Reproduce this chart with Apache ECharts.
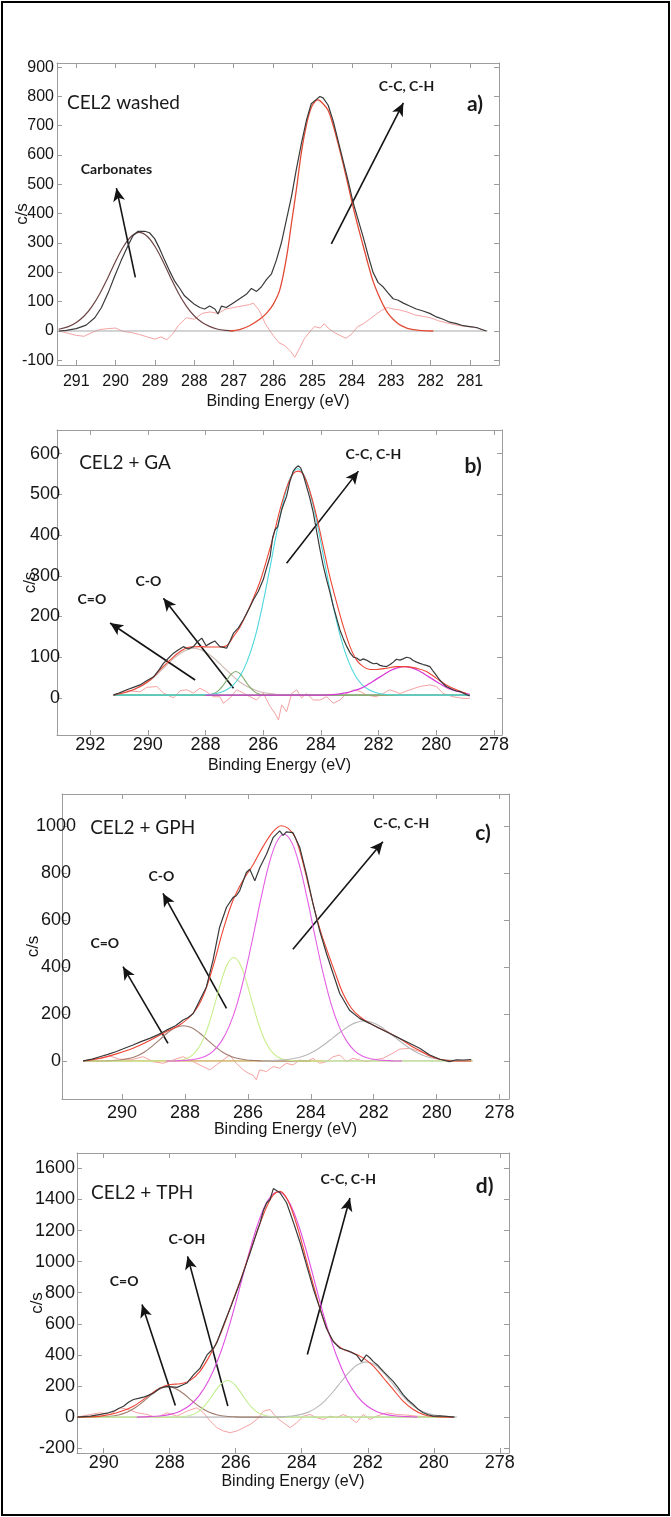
<!DOCTYPE html>
<html><head><meta charset="utf-8">
<script src="https://cdn.jsdelivr.net/npm/echarts@6/dist/echarts.min.js"></script>
<style>html,body{margin:0;padding:0;background:#fff}#c{width:671px;height:1517px}</style>
</head><body><div id="c"></div>
<script>
// ---------------- DATA (Binding energy eV, counts/s) ----------------
// Panel a) CEL2 washed
const a_xticks = [281,282,283,284,285,286,287,288,289,290,291];
const a_yticks = [-100,0,100,200,300,400,500,600,700,800,900];
const a_exp = [[291.44,0],[291.25,2],[291.0,8],[290.75,20],[290.53,45],[290.36,80],[290.19,130],[290.03,185],[289.86,240],[289.69,290],[289.56,325],[289.43,340],[289.26,340],[289.14,335],[289.01,315],[288.88,280],[288.75,240],[288.63,205],[288.5,170],[288.37,145],[288.25,120],[288.12,105],[287.99,90],[287.86,80],[287.74,75],[287.61,85],[287.48,75],[287.4,58],[287.31,85],[287.19,80],[287.02,95],[286.85,110],[286.68,125],[286.55,145],[286.42,135],[286.3,150],[286.17,175],[286.04,195],[285.92,240],[285.79,300],[285.66,380],[285.53,460],[285.41,550],[285.28,640],[285.15,720],[285.03,775],[284.9,790],[284.81,800],[284.73,795],[284.6,770],[284.47,715],[284.35,650],[284.22,580],[284.09,510],[283.97,440],[283.84,380],[283.71,320],[283.58,255],[283.46,200],[283.33,165],[283.2,150],[283.08,130],[282.95,110],[282.82,105],[282.69,95],[282.53,85],[282.36,75],[282.19,68],[282.02,60],[281.85,48],[281.68,40],[281.51,30],[281.34,25],[281.17,18],[281.0,15],[280.83,12],[280.7,5],[280.58,0]];
const a_carb = [[291.45,6],[291.2,15],[291.0,29],[290.8,51],[290.6,84],[290.4,128],[290.2,181],[290.0,238],[289.8,288],[289.6,323],[289.4,336],[289.2,323],[289.0,288],[288.8,238],[288.6,181],[288.4,128],[288.2,84],[288.0,51],[287.8,29],[287.6,15],[287.4,6],[287.2,2],[287.0,0]];
const a_cc = [[287.1,0],[286.85,5],[286.6,18],[286.34,40],[286.17,60],[286.0,90],[285.83,140],[285.66,250],[285.53,370],[285.41,480],[285.28,610],[285.15,705],[285.03,762],[284.92,785],[284.86,788],[284.73,775],[284.6,752],[284.47,700],[284.35,640],[284.22,570],[284.09,495],[283.97,425],[283.84,355],[283.71,290],[283.58,225],[283.46,170],[283.33,125],[283.2,88],[283.08,60],[282.95,40],[282.82,25],[282.69,15],[282.5,6],[282.2,1],[281.93,0]];
const a_res = [[291.44,0],[291.2,-8],[291.0,-15],[290.8,-18],[290.6,-5],[290.4,5],[290.2,8],[290.0,10],[289.8,-2],[289.6,-5],[289.4,-12],[289.2,-20],[289.0,-28],[288.85,-20],[288.7,-30],[288.55,-10],[288.4,20],[288.2,45],[288.0,40],[287.8,60],[287.6,65],[287.4,60],[287.2,75],[287.0,80],[286.8,85],[286.6,90],[286.5,95],[286.35,70],[286.2,25],[286.0,-15],[285.85,-40],[285.7,-50],[285.55,-70],[285.45,-90],[285.35,-65],[285.2,-25],[285.05,0],[284.95,15],[284.8,10],[284.7,25],[284.6,10],[284.45,-5],[284.3,-15],[284.15,-25],[284.0,-10],[283.85,15],[283.7,25],[283.55,40],[283.4,55],[283.25,70],[283.1,80],[282.95,75],[282.8,72],[282.6,65],[282.4,55],[282.2,50],[282.0,45],[281.8,35],[281.6,28],[281.4,22],[281.2,17],[281.0,14],[280.8,10],[280.58,0]];
const a_base = [[291.45,0],[280.55,0]];

// Panel b) CEL2 + GA
const b_xticks = [278,280,282,284,286,288,290,292];
const b_yticks = [0,100,200,300,400,500,600];
const b_exp = [[291.19,7],[291.0,12],[290.73,20],[290.5,26],[290.27,32],[290.04,42],[289.8,52],[289.6,70],[289.46,85],[289.28,98],[289.11,110],[288.95,118],[288.77,126],[288.6,120],[288.42,126],[288.28,138],[288.13,147],[287.98,128],[287.84,134],[287.68,140],[287.5,126],[287.38,124],[287.27,122],[287.15,140],[287.03,159],[286.86,172],[286.69,192],[286.52,215],[286.34,241],[286.17,262],[286.0,290],[285.88,320],[285.76,348],[285.67,395],[285.59,413],[285.5,420],[285.36,462],[285.28,478],[285.19,495],[285.08,530],[284.96,557],[284.86,566],[284.78,570],[284.7,565],[284.6,545],[284.5,520],[284.38,490],[284.26,454],[284.15,410],[284.03,364],[283.92,325],[283.8,290],[283.68,258],[283.57,225],[283.45,195],[283.34,167],[283.22,145],[283.1,126],[282.98,110],[282.87,100],[282.76,98],[282.64,92],[282.53,96],[282.42,93],[282.3,88],[282.18,84],[282.07,85],[281.95,80],[281.84,78],[281.72,77],[281.6,82],[281.49,88],[281.38,95],[281.26,93],[281.15,96],[281.03,100],[280.91,98],[280.8,92],[280.68,88],[280.57,85],[280.45,82],[280.34,80],[280.22,77],[280.1,65],[279.99,55],[279.88,44],[279.76,35],[279.65,28],[279.53,24],[279.42,20],[279.3,17],[279.18,16],[279.07,12],[278.95,8],[278.84,5]];
const b_env = [[291.19,7],[290.5,20],[289.92,44],[289.58,69],[289.23,93],[288.88,114],[288.54,125],[288.19,126],[287.84,125],[287.5,125],[287.27,128],[287.03,151],[286.8,175],[286.57,208],[286.34,245],[286.11,286],[285.88,339],[285.65,397],[285.42,462],[285.19,516],[284.96,551],[284.78,557],[284.61,549],[284.38,507],[284.15,446],[283.92,372],[283.69,298],[283.45,233],[283.22,175],[282.99,126],[282.76,93],[282.53,77],[282.3,70],[282.07,70],[281.72,73],[281.38,77],[281.03,77],[280.68,73],[280.34,65],[279.99,48],[279.65,32],[279.3,20],[278.95,11]];
const b_co = [[291.19,9],[290.9,12],[290.65,16],[290.4,23],[290.15,32],[289.9,44],[289.65,60],[289.4,77],[289.15,94],[288.9,108],[288.65,118],[288.4,122],[288.15,118],[287.9,108],[287.65,94],[287.4,77],[287.15,60],[286.9,44],[286.65,32],[286.4,23],[286.15,16],[285.9,12],[285.65,10],[285.4,8],[285.0,7],[278.84,7]];
const b_c_o = [[291.19,7],[288.0,7],[287.85,8],[287.7,11],[287.55,18],[287.4,30],[287.25,45],[287.1,59],[286.95,65],[286.8,59],[286.65,45],[286.5,30],[286.35,18],[286.2,11],[286.05,8],[285.9,7],[278.84,7]];
const b_cc = [[291.19,7],[288.3,7],[288.05,8],[287.8,9],[287.55,12],[287.3,19],[287.05,31],[286.8,54],[286.55,91],[286.3,145],[286.05,219],[285.8,307],[285.55,400],[285.3,483],[285.05,542],[284.8,563],[284.55,542],[284.3,483],[284.05,400],[283.8,307],[283.55,219],[283.3,145],[283.05,91],[282.8,54],[282.55,31],[282.3,19],[282.05,12],[281.8,9],[281.55,8],[281.3,7],[278.84,7]];
const b_mag = [[288.0,7],[283.85,7],[283.6,8],[283.35,10],[283.1,13],[282.85,18],[282.6,24],[282.35,34],[282.1,45],[281.85,56],[281.6,67],[281.35,74],[281.1,77],[280.85,74],[280.6,67],[280.35,56],[280.1,45],[279.85,34],[279.6,24],[279.35,18],[279.1,13],[278.84,9]];
const b_res = [[291.19,7],[290.73,18],[290.27,15],[290.04,26],[289.69,28],[289.46,12],[289.11,0],[288.88,18],[288.65,20],[288.42,12],[288.19,24],[287.96,15],[287.73,3],[287.5,3],[287.38,-13],[287.15,0],[286.92,20],[286.69,12],[286.46,3],[286.23,-5],[286.0,12],[285.76,-21],[285.59,-38],[285.47,-54],[285.36,-17],[285.19,-34],[285.01,11],[284.84,20],[284.67,0],[284.5,11],[284.26,-5],[284.03,-5],[283.8,3],[283.57,-13],[283.34,-5],[283.1,11],[282.87,20],[282.64,16],[282.41,7],[282.07,3],[281.84,11],[281.61,20],[281.26,11],[280.91,20],[280.57,28],[280.22,32],[279.99,28],[279.76,11],[279.42,3],[279.07,-1],[278.84,-1]];
const b_base = [[291.19,7],[278.84,7]];

// Panel c) CEL2 + GPH
const c_xticks = [278,280,282,284,286,288,290];
const c_yticks = [0,200,400,600,800,1000];
const c_exp = [[291.24,0],[290.95,8],[290.71,18],[290.45,28],[290.18,40],[289.9,55],[289.65,68],[289.4,82],[289.12,96],[288.85,112],[288.59,131],[288.3,150],[288.06,174],[287.9,185],[287.74,202],[287.53,258],[287.32,315],[287.11,428],[286.9,569],[286.68,654],[286.47,696],[286.37,703],[286.26,725],[286.05,802],[285.94,816],[285.78,767],[285.62,823],[285.41,880],[285.2,950],[284.99,979],[284.88,960],[284.78,975],[284.57,972],[284.35,908],[284.14,795],[283.93,668],[283.72,555],[283.5,456],[283.29,371],[283.08,287],[282.77,216],[282.45,181],[282.13,160],[281.81,138],[281.49,117],[281.18,96],[280.86,75],[280.54,54],[280.22,25],[279.9,7],[279.59,-3],[279.37,5],[279.16,4],[278.9,6]];
const c_env = [[291.24,0],[290.71,11],[290.18,30],[289.65,54],[289.12,87],[288.59,125],[288.17,153],[287.74,203],[287.43,274],[287.11,401],[286.79,557],[286.47,685],[286.15,770],[285.84,834],[285.52,912],[285.2,976],[284.94,1001],[284.72,990],[284.51,955],[284.3,869],[284.09,756],[283.88,643],[283.67,543],[283.45,458],[283.24,380],[282.98,288],[282.71,224],[282.45,189],[282.13,160],[281.81,139],[281.49,118],[281.18,96],[280.86,68],[280.54,44],[280.22,21],[279.9,7],[279.48,0],[278.9,0]];
const c_co = [[291.24,0],[290.55,0],[290.3,2],[290.05,4],[289.8,10],[289.55,20],[289.3,37],[289.05,62],[288.8,91],[288.55,120],[288.3,142],[288.05,150],[287.8,142],[287.55,120],[287.3,91],[287.05,62],[286.8,37],[286.55,20],[286.3,10],[286.05,4],[285.8,2],[285.55,0],[284.0,0]];
const c_c_o = [[291.24,0],[288.45,0],[288.25,2],[288.05,6],[287.85,17],[287.65,41],[287.45,84],[287.25,153],[287.05,243],[286.85,338],[286.65,412],[286.45,440],[286.25,412],[286.05,338],[285.85,243],[285.65,153],[285.45,84],[285.25,41],[285.05,17],[284.85,6],[284.65,2],[284.45,0],[278.85,0]];
const c_cc = [[288.6,0],[288.35,0],[288.1,2],[287.85,4],[287.6,9],[287.35,20],[287.1,42],[286.85,82],[286.6,146],[286.35,240],[286.1,368],[285.85,520],[285.6,682],[285.35,827],[285.1,928],[284.85,965],[284.6,928],[284.35,827],[284.1,682],[283.85,520],[283.6,368],[283.35,240],[283.1,146],[282.85,82],[282.6,42],[282.35,20],[282.1,9],[281.85,4],[281.6,2],[281.35,0],[281.1,0]];
const c_gr = [[285.6,0],[285.3,1],[285.05,3],[284.8,5],[284.55,10],[284.3,18],[284.05,31],[283.8,49],[283.55,72],[283.3,98],[283.05,124],[282.8,148],[282.55,164],[282.3,170],[282.05,164],[281.8,148],[281.55,124],[281.3,98],[281.05,72],[280.8,49],[280.55,31],[280.3,18],[280.05,10],[279.8,5],[279.55,3],[279.3,1],[279.0,0]];
const c_res = [[291.24,0],[290.71,11],[290.39,21],[290.07,7],[289.65,7],[289.33,18],[289.01,-3],[288.7,-10],[288.38,4],[288.06,18],[287.74,-3],[287.43,-24],[287.21,-38],[287.0,-17],[286.79,4],[286.58,25],[286.37,-10],[286.15,-38],[285.99,-52],[285.84,-60],[285.73,-81],[285.63,-38],[285.41,-45],[285.2,-24],[284.99,-31],[284.78,-10],[284.57,-17],[284.35,4],[284.14,-3],[283.93,11],[283.72,-10],[283.5,-3],[283.29,18],[283.08,25],[282.87,-3],[282.66,11],[282.45,4],[282.24,-3],[282.02,4],[281.71,11],[281.39,33],[281.18,50],[280.86,54],[280.54,40],[280.22,25],[279.9,7],[279.48,0]];
const c_base = [[291.24,0],[278.85,0]];
const c_base2 = [[291.24,0],[283.6,0]];

// Panel d) CEL2 + TPH
const d_xticks = [278,280,282,284,286,288,290];
const d_yticks = [-200,0,200,400,600,800,1000,1200,1400,1600];
const d_exp = [[290.8,0],[290.6,3],[290.4,6],[290.1,17],[289.9,25],[289.7,38],[289.55,55],[289.4,70],[289.25,95],[289.1,113],[288.95,120],[288.8,128],[288.65,140],[288.49,155],[288.29,187],[288.08,198],[287.93,195],[287.78,191],[287.63,205],[287.48,219],[287.28,272],[287.08,315],[286.87,400],[286.67,443],[286.57,480],[286.47,538],[286.32,620],[286.17,698],[285.87,868],[285.56,1060],[285.36,1190],[285.26,1251],[285.16,1330],[285.06,1379],[284.96,1400],[284.86,1470],[284.81,1464],[284.66,1443],[284.46,1379],[284.25,1251],[284.05,1123],[283.85,974],[283.65,826],[283.45,698],[283.25,570],[283.04,485],[282.84,443],[282.64,430],[282.54,421],[282.34,400],[282.19,357],[282.04,400],[281.93,380],[281.83,357],[281.68,330],[281.53,294],[281.38,262],[281.23,230],[281.08,190],[280.93,145],[280.78,110],[280.62,81],[280.47,50],[280.32,28],[280.17,15],[280.02,6],[279.82,8],[279.62,5],[279.37,0]];
const d_env = [[290.81,0],[290.1,6],[289.6,28],[289.09,71],[288.59,146],[288.29,188],[287.98,210],[287.68,214],[287.38,236],[287.08,296],[286.77,403],[286.47,531],[286.17,702],[285.87,874],[285.56,1066],[285.26,1248],[285.06,1355],[284.86,1430],[284.66,1452],[284.46,1409],[284.25,1302],[284.05,1163],[283.85,1002],[283.65,852],[283.45,702],[283.25,574],[283.04,488],[282.74,435],[282.44,413],[282.14,381],[281.83,328],[281.53,253],[281.23,178],[280.93,103],[280.62,49],[280.32,17],[280.02,4],[279.62,0],[279.4,0]];
const d_co = [[290.8,0],[290.3,0],[290.05,2],[289.8,5],[289.55,14],[289.3,31],[289.05,60],[288.8,100],[288.55,145],[288.3,181],[288.05,195],[287.8,181],[287.55,145],[287.3,100],[287.05,60],[286.8,31],[286.55,14],[286.3,5],[286.05,2],[285.8,0],[284.5,0]];
const d_coh = [[290.8,0],[287.9,0],[287.75,1],[287.6,3],[287.45,7],[287.3,16],[287.15,32],[287.0,59],[286.85,97],[286.7,143],[286.55,188],[286.4,222],[286.25,235],[286.1,222],[285.95,188],[285.8,143],[285.65,97],[285.5,59],[285.35,32],[285.2,16],[285.05,7],[284.9,3],[284.75,1],[284.6,0],[279.4,0]];
const d_cc = [[289.0,0],[288.62,3],[288.32,7],[288.02,16],[287.72,35],[287.42,71],[287.12,135],[286.82,235],[286.52,380],[286.22,571],[285.92,799],[285.62,1038],[285.32,1249],[285.02,1396],[284.72,1450],[284.42,1396],[284.12,1249],[283.82,1038],[283.52,799],[283.22,571],[282.92,380],[282.62,235],[282.32,135],[282.02,71],[281.72,35],[281.42,16],[281.12,7],[280.82,3],[280.5,0]];
const d_gr = [[285.2,0],[284.8,1],[284.55,3],[284.3,7],[284.05,16],[283.8,32],[283.55,61],[283.3,105],[283.05,163],[282.8,229],[282.55,292],[282.3,338],[282.05,355],[281.8,338],[281.55,292],[281.3,229],[281.05,163],[280.8,105],[280.55,61],[280.3,32],[280.05,16],[279.8,7],[279.55,3],[279.3,1]];
const d_res = [[290.81,0],[290.5,13],[290.1,28],[289.8,17],[289.5,60],[289.2,45],[288.99,28],[288.69,17],[288.39,-4],[288.08,28],[287.78,6],[287.48,38],[287.18,60],[286.98,28],[286.77,-26],[286.57,-68],[286.37,-90],[286.17,-100],[285.97,-90],[285.76,-68],[285.56,-47],[285.36,-15],[285.16,38],[284.96,49],[284.76,-4],[284.56,-36],[284.35,-68],[284.15,-36],[283.95,6],[283.75,17],[283.55,-4],[283.35,-15],[283.14,6],[282.94,-4],[282.74,17],[282.54,-4],[282.34,-36],[282.14,17],[281.93,-15],[281.73,6],[281.43,28],[281.13,17],[280.83,13],[280.52,6],[280.02,0],[279.62,0]];
const d_base = [[290.8,0],[279.4,0]];

// ---------------- LAYOUT / STYLE ----------------
const FONT = "'Liberation Sans',Arial,sans-serif";
const ANN = "Lato,'Open Sans','Noto Sans',sans-serif";
const AX = '#9c9c9c';
const C = {exp:'#3a3a3a', env:'#ee4433', res:'#f5a3a3', base:'#a8a8a8'};

const panels = [
  {grid:{left:57,top:63,width:442,height:302}, xr:[280.26,291.49], yr:[-116,914], xt:a_xticks, yt:a_yticks,
   fs:16, xm:9, ym:3, xng:29, yng:26, ypad:0,
   lines:[[a_res,C.res,1,false],[a_base,C.base,1,false],[a_carb,'#6e4444',1.2,true],[a_cc,'#e34a35',1.3,true],[a_exp,C.exp,1.2,false]],
   text:[[291.25,778,'CEL2 washed',19,'normal','left'],[280.87,772,'a)',21,'bold','center'],[282.61,835,'C-C, C-H',14,'bold','center'],[289.98,550,'Carbonates',14,'bold','center']],
   arrows:[[289.5,183,289.98,487],[284.52,297,282.69,778]]},
  {grid:{left:57,top:430,width:445,height:305}, xr:[277.72,293.15], yr:[-91,658], xt:b_xticks, yt:b_yticks,
   fs:18, xm:1, ym:-3, xng:23, yng:18, ypad:0,
   lines:[[b_res,C.res,1,false],[b_base,'#3c9c3c',1.2,false],[b_co,'#cdb9b0',1.1,true],[b_c_o,'#7da86a',1.1,true],[b_cc,'#4dd6dc',1.1,true],[b_mag,'#d838d8',1.2,true],[b_env,C.env,1.1,true],[b_exp,C.exp,1.2,false]],
   text:[[292.4,577,'CEL2 + GA',19,'normal','left'],[278.72,569,'b)',21,'bold','center'],[282.18,598,'C-C, C-H',14,'bold','center'],[289.98,286,'C-O',14,'bold','center'],[291.94,243,'C=O',14,'bold','center']],
   arrows:[[285.19,331,282.7,557],[287.03,24,289.46,245],[288.36,44,291.31,184]]},
  {grid:{left:62,top:794,width:447,height:305}, xr:[277.70,291.91], yr:[-162,1136], xt:c_xticks, yt:c_yticks,
   fs:18, xm:5, ym:6, xng:23, yng:20, ypad:12, yalign:'center',
   lines:[[c_res,C.res,1,false],[c_base,C.base,1,false],[c_base2,'#e6b84a',1,false],[c_co,'#a07c6e',1.1,true],[c_c_o,'#c9ef8f',1.1,true],[c_gr,'#b8b8b8',1.1,true],[c_cc,'#e45ee4',1.1,true],[c_env,C.env,1.1,true],[c_exp,C.exp,1.2,false]],
   text:[[291.03,990,'CEL2 + GPH',19,'normal','left'],[278.53,969,'c)',21,'bold','center'],[281.12,1011,'C-C, C-H',14,'bold','center'],[288.75,784,'C-O',14,'bold','center'],[290.55,498,'C=O',14,'bold','center']],
   arrows:[[284.57,475,281.71,933],[286.68,224,288.7,713],[288.54,75,289.97,401]]},
  {grid:{left:77,top:1153,width:432,height:300}, xr:[277.72,290.81], yr:[-231,1699], xt:d_xticks, yt:d_yticks,
   fs:18, xm:1, ym:2, xng:21, yng:31, ypad:0,
   lines:[[d_res,C.res,1,false],[d_base,C.base,1,false],[d_co,'#a07c6e',1.1,true],[d_coh,'#c2ee90',1.1,true],[d_gr,'#b8b8b8',1.1,true],[d_cc,'#e050e0',1.1,true],[d_env,C.env,1.1,true],[d_exp,C.exp,1.2,false]],
   text:[[290.4,1441,'CEL2 + TPH',19,'normal','left'],[278.46,1484,'d)',21,'bold','center'],[282.59,1527,'C-C, C-H',14,'bold','center'],[287.48,1141,'C-OH',14,'bold','center'],[289.38,874,'C=O',14,'bold','center']],
   arrows:[[283.83,403,282.54,1409],[286.24,71,287.46,1034],[287.83,75,288.84,724]]}
];

const option = {animation:false, backgroundColor:'#fff', grid:[], xAxis:[], yAxis:[], series:[],
  graphic:[{type:'rect', shape:{x:2,y:2,width:667,height:1513}, style:{fill:'none', stroke:'#000', lineWidth:2}, silent:true}]};

const plain = v => String(v);
panels.forEach((p,i)=>{
  option.grid.push(Object.assign({containLabel:false, outerBoundsMode:'none'}, p.grid));
  const common = {type:'value', gridIndex:i, splitLine:{show:false}, nameMoveOverlap:false};
  option.xAxis.push(Object.assign({}, common, {min:p.xr[0], max:p.xr[1], inverse:true, position:'bottom',
    axisLine:{show:true, onZero:false, lineStyle:{color:AX}},
    axisTick:{show:true, inside:true, length:5, customValues:p.xt, lineStyle:{color:AX}},
    axisLabel:{show:true, customValues:p.xt, formatter:plain, margin:p.xm, fontSize:p.fs, fontFamily:FONT, color:'#151515'},
    name:'Binding Energy (eV)', nameLocation:'middle', nameGap:p.xng,
    nameTextStyle:{fontSize:16, fontFamily:FONT, color:'#151515'}}));
  option.xAxis.push(Object.assign({}, common, {min:p.xr[0], max:p.xr[1], inverse:true, position:'top',
    axisLine:{show:true, onZero:false, lineStyle:{color:AX}},
    axisTick:{show:true, inside:true, length:5, customValues:p.xt, lineStyle:{color:AX}},
    axisLabel:{show:false}}));
  option.yAxis.push(Object.assign({}, common, {min:p.yr[0], max:p.yr[1], position:'left',
    axisLine:{show:true, onZero:false, lineStyle:{color:AX}},
    axisTick:{show:true, inside:true, length:5, customValues:p.yt, lineStyle:{color:AX}},
    axisLabel:{show:true, customValues:p.yt, formatter:plain, margin:p.ym, fontSize:p.fs, fontFamily:FONT, color:'#151515',
      padding:[p.ypad,0,0,0], align:p.yalign||'right'},
    name:'c/s', nameLocation:'middle', nameGap:p.yng,
    nameTextStyle:{fontSize:17, fontFamily:FONT, color:'#151515'}}));
  option.yAxis.push(Object.assign({}, common, {min:p.yr[0], max:p.yr[1], position:'right',
    axisLine:{show:true, onZero:false, lineStyle:{color:AX}},
    axisTick:{show:true, inside:true, length:5, customValues:p.yt, lineStyle:{color:AX}},
    axisLabel:{show:false}}));
  p.lines.forEach((l,k)=>{
    const s = {type:'line', xAxisIndex:2*i, yAxisIndex:2*i, data:l[0], symbol:'none', showSymbol:false,
      smooth:l[3]?0.35:false, silent:true, lineStyle:{color:l[1], width:l[2]}, z:2+k};
    if (k===1) {
      s.markLine = {silent:true, symbol:['none','arrow'], symbolSize:[9,13], animation:false,
        lineStyle:{color:'#141414', width:1.6, type:'solid'}, label:{show:false},
        data:p.arrows.map(a=>[{coord:[a[0],a[1]]},{coord:[a[2],a[3]]}])};
      s.markPoint = {silent:true, animation:false,
        data:p.text.map(t=>({coord:[t[0],t[1]], symbol:'circle', symbolSize:1, itemStyle:{color:'rgba(0,0,0,0)'},
          label:{show:true, position:t[5]==='left'?'right':'inside', distance:0, formatter:t[2], fontSize:t[3], fontWeight:t[4],
            fontFamily:ANN, color:'#1a1a1a'}}))};
    }
    option.series.push(s);
  });
});

const chart = echarts.init(document.getElementById('c'), null, {renderer:'canvas'});
chart.setOption(option);
</script></body></html>
